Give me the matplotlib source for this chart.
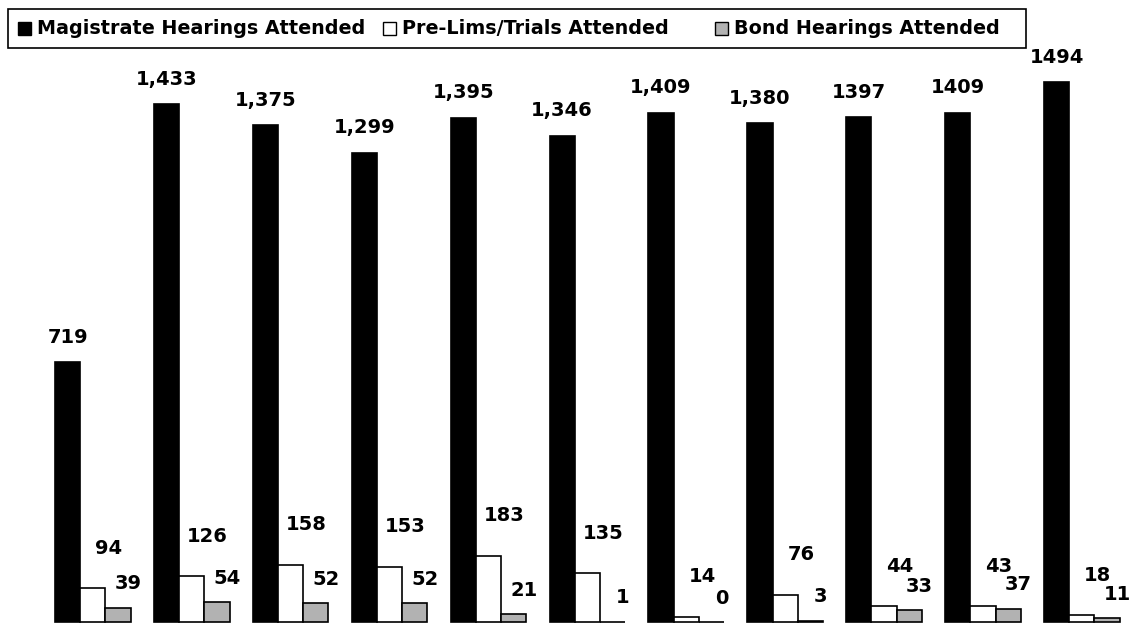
import matplotlib
matplotlib.use("Agg")
import matplotlib.pyplot as plt
from matplotlib.patches import Rectangle
import numpy as np

series_names = ["Magistrate Hearings Attended", "Pre-Lims/Trials Attended", "Bond Hearings Attended"]
magistrate = [719, 1433, 1375, 1299, 1395, 1346, 1409, 1380, 1397, 1409, 1494]
magistrate_labels = ["719", "1,433", "1,375", "1,299", "1,395", "1,346", "1,409", "1,380", "1397", "1409", "1494"]
prelims = [94, 126, 158, 153, 183, 135, 14, 76, 44, 43, 18]
bond = [39, 54, 52, 52, 21, 1, 0, 3, 33, 37, 11]

colors = ["#000000", "#ffffff", "#b2b2b2"]
W, H = 1136, 623
DPI = 100
fig = plt.figure(figsize=(W / DPI, H / DPI), dpi=DPI)
ax = fig.add_axes([0, 0, 1, 1])
ax.set_axis_off()

px_per_unit_x = 98.9
x0_px = 92.85
ax.set_xlim(-x0_px / px_per_unit_x, (W - x0_px) / px_per_unit_x)
px_per_val = 0.3614
base_px = 622
ax.set_ylim(-(H - base_px) / px_per_val, base_px / px_per_val)

x = np.arange(len(magistrate))
w = 0.255
all_vals = [magistrate, prelims, bond]
offsets = [-w, 0.0, w]
label_sets = [magistrate_labels, [str(v) for v in prelims], [str(v) for v in bond]]
# label offsets in pixels (dx, dy above bar top to label center)
label_off = [(0, 25), (16, 40), (10, 24)]

font = "DejaVu Sans"
for vals, off, col, labs, (dx, dy) in zip(all_vals, offsets, colors, label_sets, label_off):
    ax.bar(x + off, vals, width=w, color=col, edgecolor="black", linewidth=1.2)
    for xi, v, lab in zip(x, vals, labs):
        ax.annotate(lab, (xi + off, v), xytext=(dx * 0.72, dy * 0.72), textcoords="offset points",
                    ha="center", va="center", fontsize=14, fontweight="bold", family=font)

# Legend box
lx0, ly0, lx1, ly1 = 8, 9, 1026, 48
fig.patches.append(Rectangle((lx0 / W, 1 - ly1 / H), (lx1 - lx0) / W, (ly1 - ly0) / H,
                             transform=fig.transFigure, facecolor="white", edgecolor="black",
                             linewidth=1.2, zorder=5))
sq = 13
entries_x = [18, 383, 715]
cy = (ly0 + ly1) / 2
for ex, name, col in zip(entries_x, series_names, colors):
    fig.patches.append(Rectangle((ex / W, 1 - (cy + sq / 2) / H), sq / W, sq / H,
                                 transform=fig.transFigure, facecolor=col, edgecolor="black",
                                 linewidth=1.0, zorder=6))
    fig.text((ex + sq + 6) / W, 1 - cy / H, name, ha="left", va="center", fontsize=13.8,
             fontweight="bold", family=font, zorder=7)

fig.savefig("out.png", dpi=DPI)
